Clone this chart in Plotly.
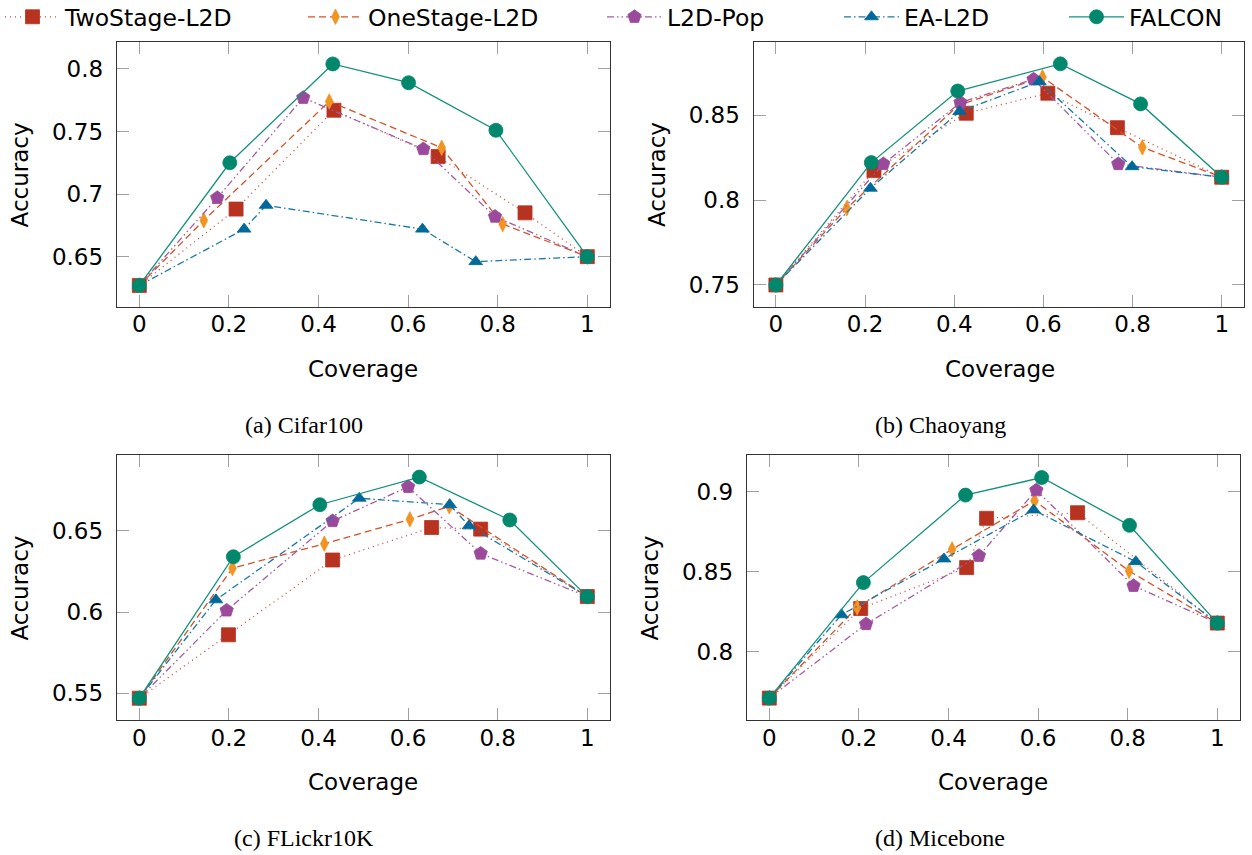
import plotly.graph_objects as go

# ---------------- data ----------------
methods = ["TwoStage-L2D", "OneStage-L2D", "L2D-Pop", "EA-L2D", "FALCON"]

# (a) Cifar100
cifar_twostage_x = [0, 0.216, 0.4345, 0.667, 0.861, 1]
cifar_twostage_y = [0.627, 0.688, 0.767, 0.730, 0.685, 0.650]
cifar_onestage_x = [0, 0.144, 0.424, 0.675, 0.811, 1]
cifar_onestage_y = [0.627, 0.679, 0.774, 0.737, 0.676, 0.650]
cifar_pop_x = [0, 0.174, 0.366, 0.634, 0.794, 1]
cifar_pop_y = [0.627, 0.697, 0.777, 0.736, 0.682, 0.650]
cifar_ea_x = [0, 0.234, 0.283, 0.632, 0.751, 1]
cifar_ea_y = [0.627, 0.672, 0.691, 0.672, 0.646, 0.650]
cifar_falcon_x = [0, 0.202, 0.432, 0.601, 0.796, 1]
cifar_falcon_y = [0.627, 0.725, 0.804, 0.789, 0.751, 0.650]

# (b) Chaoyang
chao_twostage_x = [0, 0.220, 0.427, 0.610, 0.766, 1]
chao_twostage_y = [0.75, 0.8174, 0.8512, 0.863, 0.8427, 0.8135]
chao_onestage_x = [0, 0.159, 0.41, 0.598, 0.822, 1]
chao_onestage_y = [0.75, 0.7952, 0.856, 0.8724, 0.8311, 0.8135]
chao_pop_x = [0, 0.241, 0.414, 0.578, 0.768, 1]
chao_pop_y = [0.75, 0.8213, 0.8575, 0.8712, 0.8213, 0.8135]
chao_ea_x = [0, 0.212, 0.412, 0.591, 0.799, 1]
chao_ea_y = [0.75, 0.807, 0.8522, 0.8698, 0.8197, 0.8135]
chao_falcon_x = [0, 0.214, 0.408, 0.638, 0.818, 1]
chao_falcon_y = [0.75, 0.8221, 0.8643, 0.8803, 0.8567, 0.8135]

# (c) FLickr10K
flickr_twostage_x = [0, 0.199, 0.4315, 0.6525, 0.762, 1]
flickr_twostage_y = [0.547, 0.586, 0.632, 0.652, 0.651, 0.6095]
flickr_onestage_x = [0, 0.208, 0.413, 0.604, 0.692, 1]
flickr_onestage_y = [0.547, 0.627, 0.642, 0.657, 0.665, 0.6095]
flickr_pop_x = [0, 0.195, 0.4315, 0.600, 0.762, 1]
flickr_pop_y = [0.547, 0.601, 0.656, 0.677, 0.636, 0.6095]
flickr_ea_x = [0, 0.171, 0.491, 0.693, 0.736, 1]
flickr_ea_y = [0.547, 0.6075, 0.670, 0.666, 0.653, 0.6095]
flickr_falcon_x = [0, 0.21, 0.403, 0.625, 0.827, 1]
flickr_falcon_y = [0.547, 0.634, 0.666, 0.683, 0.6566, 0.6095]

# (d) Micebone
mice_twostage_x = [0, 0.204, 0.4405, 0.485, 0.688, 1]
mice_twostage_y = [0.771, 0.827, 0.8526, 0.8834, 0.8869, 0.8179]
mice_onestage_x = [0, 0.196, 0.408, 0.592, 0.803, 1]
mice_onestage_y = [0.771, 0.8277, 0.864, 0.8944, 0.8505, 0.8179]
mice_pop_x = [0, 0.216, 0.468, 0.596, 0.813, 1]
mice_pop_y = [0.771, 0.8173, 0.860, 0.901, 0.8412, 0.8179]
mice_ea_x = [0, 0.161, 0.39, 0.59, 0.818, 1]
mice_ea_y = [0.771, 0.8231, 0.858, 0.8886, 0.8563, 0.8179]
mice_falcon_x = [0, 0.21, 0.438, 0.608, 0.804, 1]
mice_falcon_y = [0.771, 0.8432, 0.8979, 0.9089, 0.879, 0.8179]

x_tickvals = [0, 0.2, 0.4, 0.6, 0.8, 1]
x_ticktext = ["0", "0.2", "0.4", "0.6", "0.8", "1"]
cifar_ytick = [0.65, 0.7, 0.75, 0.8]
chao_ytick = [0.75, 0.8, 0.85]
flickr_ytick = [0.55, 0.6, 0.65]
mice_ytick = [0.8, 0.85, 0.9]
captions = ["(a) Cifar100", "(b) Chaoyang", "(c) FLickr10K", "(d) Micebone"]

# ---------------- styles ----------------
W, H = 1252, 855
FONT = "DejaVu Sans"
styles = {
    "TwoStage-L2D": dict(mc="#b83220", lc="#cc4630", dash="1px,4px", sym="square", size=14),
    "OneStage-L2D": dict(mc="#f39322", lc="#d5522a", dash="7px,4px", sym="diamond-tall", size=11),
    "L2D-Pop": dict(mc="#9b4a9b", lc="#a55aa5", dash="7px,3px,1.5px,3px,1.5px,3px", sym="pentagon", size=14),
    "EA-L2D": dict(mc="#00699a", lc="#1a78a8", dash="7px,3px,1.5px,3px", sym="triangle-up", size=12),
    "FALCON": dict(mc="#00876c", lc="#11927a", dash="solid", sym="circle", size=14),
}

panels = [
    dict(data=[(cifar_twostage_x, cifar_twostage_y), (cifar_onestage_x, cifar_onestage_y),
               (cifar_pop_x, cifar_pop_y), (cifar_ea_x, cifar_ea_y), (cifar_falcon_x, cifar_falcon_y)],
         px=(116.9, 609.7), py=(42.3, 306.7), yr=[0.610, 0.8213], yt=cifar_ytick),
    dict(data=[(chao_twostage_x, chao_twostage_y), (chao_onestage_x, chao_onestage_y),
               (chao_pop_x, chao_pop_y), (chao_ea_x, chao_ea_y), (chao_falcon_x, chao_falcon_y)],
         px=(753.6, 1244.0), py=(42.3, 306.7), yr=[0.7372, 0.893], yt=chao_ytick),
    dict(data=[(flickr_twostage_x, flickr_twostage_y), (flickr_onestage_x, flickr_onestage_y),
               (flickr_pop_x, flickr_pop_y), (flickr_ea_x, flickr_ea_y), (flickr_falcon_x, flickr_falcon_y)],
         px=(116.9, 609.7), py=(455.3, 720.0), yr=[0.5336, 0.6964], yt=flickr_ytick),
    dict(data=[(mice_twostage_x, mice_twostage_y), (mice_onestage_x, mice_onestage_y),
               (mice_pop_x, mice_pop_y), (mice_ea_x, mice_ea_y), (mice_falcon_x, mice_falcon_y)],
         px=(746.9, 1239.7), py=(455.3, 720.0), yr=[0.7573, 0.9228], yt=mice_ytick),
]

legend_names = ["legend", "legend2", "legend3", "legend4", "legend5"]
legend_text_x = [78, 381, 680, 917, 1142]

fig = go.Figure()
layout = dict(
    width=W, height=H, margin=dict(l=0, r=0, t=0, b=0, autoexpand=False),
    paper_bgcolor="white", plot_bgcolor="white",
    font=dict(family=FONT, size=23, color="black"),
    annotations=[],
)

for i, p in enumerate(panels):
    n = "" if i == 0 else str(i + 1)
    xa, ya = "x" + n, "y" + n
    for j, (name, (xs, ys)) in enumerate(zip(methods, p["data"])):
        s = styles[name]
        fig.add_trace(go.Scatter(
            x=xs, y=ys, mode="lines+markers", name=name,
            xaxis=xa, yaxis=ya,
            line=dict(color=s["lc"], width=1.3, dash=s["dash"]),
            marker=dict(symbol=s["sym"], size=s["size"], color=s["mc"],
                        line=dict(width=0.8, color=s["mc"])),
            showlegend=(i == 0),
            legend=legend_names[j],
        ))
    axis_common = dict(showline=True, linecolor="#333333", linewidth=1.3, mirror="ticks",
                       ticks="inside", ticklen=12, tickwidth=1.2, tickcolor="#a0a0a0",
                       showgrid=False, zeroline=False,
                       tickfont=dict(family=FONT, size=23, color="black"))
    layout["xaxis" + n] = dict(axis_common, domain=[p["px"][0] / W, p["px"][1] / W],
                               range=[-0.05, 1.05], tickvals=x_tickvals, ticktext=x_ticktext,
                               anchor=ya, ticklabelstandoff=-3)
    layout["yaxis" + n] = dict(axis_common, domain=[1 - p["py"][1] / H, 1 - p["py"][0] / H],
                               range=p["yr"], tickvals=p["yt"], anchor=xa, ticklabelstandoff=8)
    # axis titles
    layout["annotations"].append(dict(text="Coverage", xref="paper", yref="paper",
                                      x=(p["px"][0] + 22.4 + 224) / W, y=1 - (p["py"][1] + 62) / H,
                                      showarrow=False, xanchor="center", yanchor="middle",
                                      font=dict(family=FONT, size=23)))
    layout["annotations"].append(dict(text="Accuracy", xref="paper", yref="paper",
                                      x=(p["px"][0] - 97) / W, y=1 - ((p["py"][0] + p["py"][1]) / 2) / H,
                                      showarrow=False, textangle=-90, xanchor="center", yanchor="middle",
                                      font=dict(family=FONT, size=23)))
    layout["annotations"].append(dict(text=captions[i], xref="paper", yref="paper",
                                      x=(304 if i % 2 == 0 else 940) / W,
                                      y=1 - (425 if i < 2 else 838) / H,
                                      showarrow=False, xanchor="center", yanchor="middle",
                                      font=dict(family="Liberation Serif", size=24)))

for j, ln in enumerate(legend_names):
    layout[ln] = dict(x=(legend_text_x[j] - 78) / W, y=1 - 17 / H, xanchor="left", yanchor="middle",
                      orientation="h", itemwidth=55, bgcolor="rgba(0,0,0,0)", borderwidth=0,
                      font=dict(family=FONT, size=23.5, color="black"))

fig.update_layout(**layout)
fig.write_html("out.html")
